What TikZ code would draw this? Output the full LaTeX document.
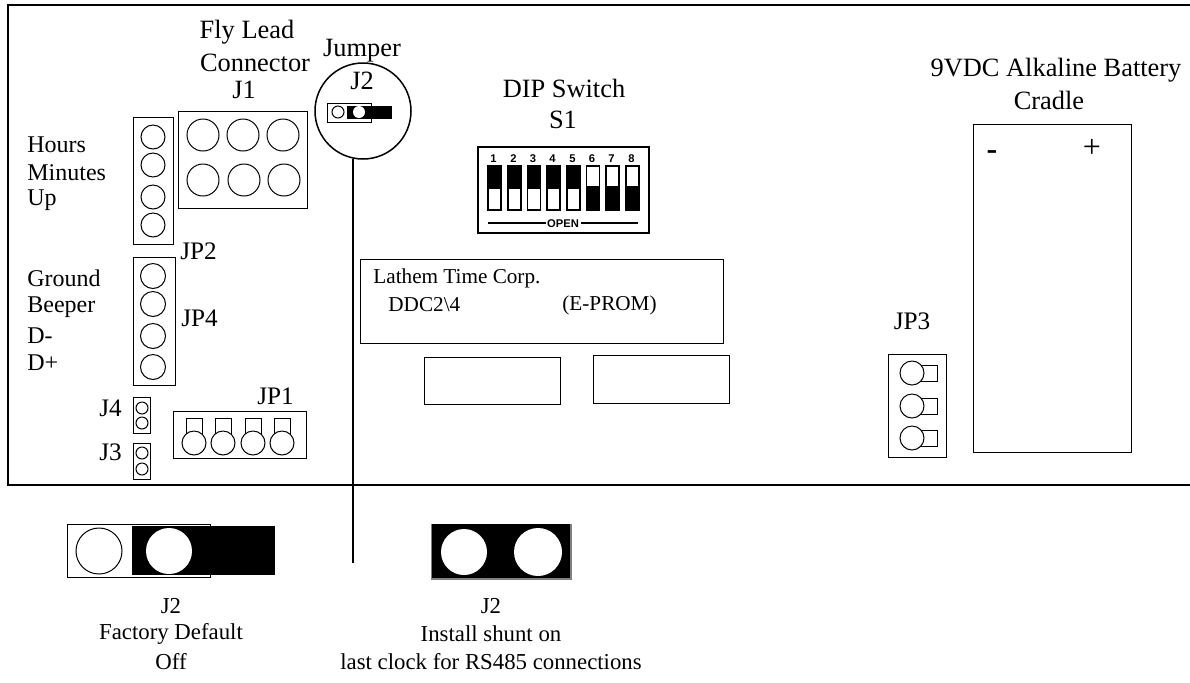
\documentclass[tikz,border=0pt]{standalone}
\usepackage{fontspec}
\setmainfont{Liberation Serif}
\newfontfamily\dipfont{Liberation Sans}
\tikzset{
  x=0.5pt,y=-0.5pt,
  frameline/.style={draw=black,line width=1pt},
  thin box/.style={draw=black,line width=0.5pt},
  label text/.style={inner sep=0pt,align=center},
  bigtext/.style={label text,font=\fontsize{13.2}{13.2}\selectfont},
  midtext/.style={label text,font=\fontsize{12}{12}\selectfont},
  jptext/.style={label text,font=\fontsize{12.6}{12.6}\selectfont},
  captext/.style={label text,font=\fontsize{11.4}{11.4}\selectfont},
  chiptext/.style={label text,font=\fontsize{10.6}{10.6}\selectfont},
  polarity/.style={label text,font=\fontsize{16}{16}\selectfont},
  dipnum/.style={font=\dipfont\bfseries\fontsize{5.6}{6}\selectfont,inner sep=0pt},
  pin/.style={draw=black,line width=0.5pt,fill=white},
}
\begin{document}
\begin{tikzpicture}
\useasboundingbox (0,0) rectangle (1190,682);
% board
\coordinate (bl) at (8,485); \coordinate (tl) at (8,5);
\coordinate (tr) at (1190,5); \coordinate (br) at (1190,485);
\draw[frameline] (tr) -- (tl) -- (bl) -- (br);
% J1
\draw[thin box] (178,111) rectangle (307,208);
\foreach \p in {(203,135),(243,135),(283,135),(203,180),(244,180),(284,180)} \draw[pin] \p circle (16);
% JP2
\draw[thin box] (133,117) rectangle (173,244);
\foreach \y in {137,165,197,225} \draw[pin] (153,\y) circle (12);
% JP4
\draw[thin box] (133,257) rectangle (175,385);
\foreach \y in {276,304,336,367} \draw[pin] (153,\y) circle (12.5);
% J4 J3
\draw[thin box] (133,397) rectangle (150,433);
\draw[pin] (142,408) circle (6); \draw[pin] (142,423) circle (6);
\draw[thin box] (133,443) rectangle (150,479);
\draw[pin] (142,453) circle (6); \draw[pin] (142,469) circle (6);
% JP1
\draw[thin box] (173,411) rectangle (306,458);
\foreach \x in {194,223,253,282} {\draw[thin box] (\x-8,418) rectangle (\x+8,440); \draw[pin] (\x,443) circle (12);}
% magnifier
\node[circle,draw=black,line width=0.75pt,minimum size=48pt,inner sep=0pt,fill=white] (mag) at (363,111) {};
\coordinate (lineend) at (353,563);
\draw[line width=0.75pt] (353,159) -- (lineend);
\draw[thin box] (327,103) rectangle (371,122);
\fill[black] (347,106) rectangle (392,119);
\fill[white] (359,112) circle (6);
\draw[pin] (338,112) circle (6);
% bottom left J2
\draw[thin box] (67,524) rectangle (210,577);
\fill[black] (132,526) rectangle (275,575);
\draw[pin] (99,551) circle (23);
\fill[white] (169,551) circle (23);
% bottom right J2
\draw[draw=gray,line width=0.75pt] (432,525) rectangle (571,579);
\fill[black] (432,524) rectangle (570,578);
\fill[white] (464,552) circle (23);
\fill[white] (538,552) circle (24);
% DIP
\draw[black,line width=1pt] (478,147) rectangle (649,233);
\foreach \x/\n in {494.5/1,514.5/2,534/3,553.5/4,573.5/5} {
  \draw[black,line width=0.75pt,fill=white] (\x-6.5,166) rectangle (\x+6.5,210);
  \fill[black] (\x-6.5,166) rectangle (\x+6.5,189);
  \node[dipnum] at (\x-1,159) {\n};
}
\foreach \x/\n in {593/6,612.5/7,632.5/8} {
  \draw[black,line width=0.75pt,fill=white] (\x-6.5,166) rectangle (\x+6.5,210);
  \fill[black] (\x-6.5,186) rectangle (\x+6.5,210);
  \node[dipnum] at (\x-1,159) {\n};
}
\node[dipnum] (openlbl) at (563,223.5) {OPEN};
\coordinate (ol) at (488,223); \coordinate (or) at (638,223);
\draw[line width=0.6pt] (ol) -- (546,223);
\draw[line width=0.6pt] (581,223) -- (or);
% chips
\draw[thin box] (360,259) rectangle (723,343);
\draw[thin box] (424,357) rectangle (560,404);
\draw[thin box] (593,355) rectangle (729,403);
% battery
\draw[thin box] (973,124) rectangle (1131,452);
% JP3
\draw[thin box] (888,354) rectangle (946,457);
\foreach \y in {373,406,438} {\draw[thin box] (912,\y-8) rectangle (937,\y+8); \draw[pin] (912,\y) circle (12);}
% text
\node[bigtext] at (247,32) {Fly Lead};
\node[bigtext] at (255,63) {Connector};
\node[bigtext] at (244,90) {J1};
\node[bigtext] at (362,51) {Jumper};
\node[bigtext] at (362,81) {J2};
\node[bigtext] at (564,88) {DIP Switch};
\node[bigtext] at (563,120) {S1};
\node[bigtext] at (1056,70) {9VDC Alkaline Battery};
\node[bigtext] at (1049,100) {Cradle};
\node[midtext,anchor=west] at (27,145) {Hours};
\node[midtext,anchor=west] at (27,173) {Minutes};
\node[midtext,anchor=west] at (27,200) {Up};
\node[jptext,anchor=west] at (180,251) {JP2};
\node[midtext,anchor=west] at (27,278) {Ground};
\node[midtext,anchor=west] at (27,307) {Beeper};
\node[midtext,anchor=west] at (27,336) {D-};
\node[midtext,anchor=west] at (27,363) {D+};
\node[jptext,anchor=west] at (181,318) {JP4};
\node[jptext,anchor=west] at (99,408) {J4};
\node[jptext,anchor=west] at (99,452) {J3};
\node[jptext,anchor=west] at (257,396) {JP1};
\node[chiptext,anchor=west] at (373,278) {Lathem Time Corp.};
\node[chiptext,anchor=west] at (388,305) {DDC2\textbackslash 4};
\node[chiptext,anchor=west] at (562,305) {(E-PROM)};
\node[jptext] at (912,321) {JP3};
\node[polarity] at (992,155) {\textbf{-}};
\node[polarity] at (1092,148) {+};
\node[captext] at (171,606) {J2};
\node[captext] at (171,634) {Factory Default};
\node[captext] at (171,662) {Off};
\node[captext] at (491,606) {J2};
\node[captext] at (491,634) {Install shunt on};
\node[captext] at (491,662) {last clock for RS485 connections};
\end{tikzpicture}
\end{document}
